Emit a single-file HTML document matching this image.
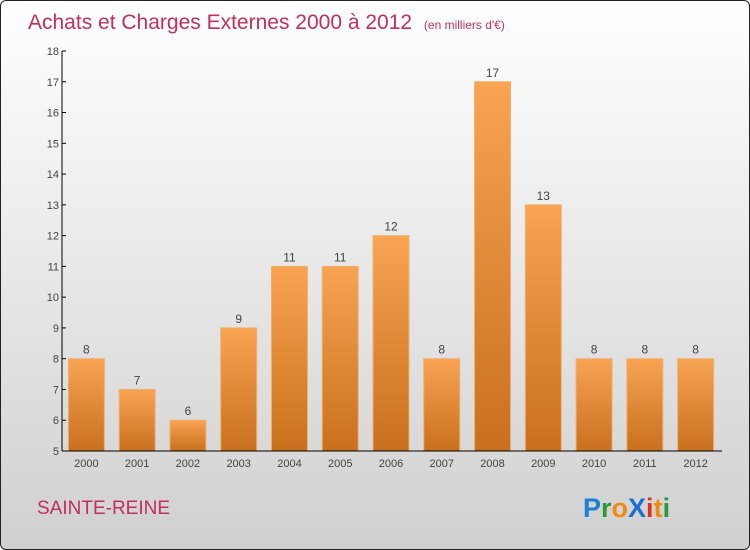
<!DOCTYPE html>
<html><head><meta charset="utf-8"><style>
body{margin:0;width:750px;height:550px;overflow:hidden;font-family:"Liberation Sans",sans-serif}
#wrap{position:absolute;left:0;top:0;width:748px;height:548px;border:1px solid #222;border-radius:6px;background:linear-gradient(#ffffff,#d0d0d0);overflow:hidden}
</style></head><body>
<div id="wrap">
<svg id="chart" width="750" height="550">
<defs><linearGradient id="bg" x1="0" y1="0" x2="0" y2="1"><stop offset="0" stop-color="#f8a453"/><stop offset="1" stop-color="#c8701e"/></linearGradient></defs>
<text x="27" y="28" font-size="21" fill="#c0305a">Achats et Charges Externes 2000 à 2012 <tspan font-size="12" dx="6">(en milliers d'€)</tspan></text>
<text x="36" y="513" font-size="19" fill="#c0305a">SAINTE-REINE</text>
<g font-size="27" font-weight="bold" font-family="Liberation Sans,sans-serif">
<text x="582" y="516"><tspan fill="#1a7fd6">P</tspan><tspan fill="#2a9a3a">r</tspan><tspan fill="#f08a10">o</tspan><tspan fill="#1a6fd0">X</tspan><tspan fill="#e03020">i</tspan><tspan fill="#f08a10">t</tspan><tspan fill="#2a9a3a">i</tspan></text></g>
<g id="plot"></g>
</svg></div>
<script>
const years=["2000","2001","2002","2003","2004","2005","2006","2007","2008","2009","2010","2011","2012"];
const values=[8,7,6,9,11,11,12,8,17,13,8,8,8];
const yTicks=[5,6,7,8,9,10,11,12,13,14,15,16,17,18];
const NS="http://www.w3.org/2000/svg";
const g=document.getElementById('plot');
const y0=450,y1=50,vmin=5,vmax=18,xl=61,xr=721;
const y=v=>y0-(v-vmin)/(vmax-vmin)*(y0-y1);
const step=(xr-xl)/years.length;
const x=i=>xl+step*(i+0.5)-1;
function el(t,a,txt){const e=document.createElementNS(NS,t);for(const k in a)e.setAttribute(k,a[k]);if(txt!==undefined)e.textContent=txt;g.appendChild(e);return e;}
yTicks.forEach(v=>{
 const t=el('text',{x:xl-3,y:y(v)+4,'font-size':11,fill:'#444','text-anchor':'end'},v);
 
 const l=el('line',{x1:xl,x2:xl+4,y1:y(v),y2:y(v),stroke:'#000'});
 
});
values.forEach((v,i)=>{
 const bw=36;
 const r=el('rect',{x:x(i)-bw/2,y:y(v),width:bw,height:y0-y(v),fill:'url(#bg)',stroke:'#f0b070','stroke-width':1});
 
 const t=el('text',{x:x(i),y:y(v)-5,'font-size':12,fill:'#444','text-anchor':'middle'},v);
 
 const c=el('text',{x:x(i),y:y0+16,'font-size':11,fill:'#444','text-anchor':'middle'},years[i]);
 
});
const ya=el('line',{x1:xl,x2:xl,y1:y1,y2:y0,stroke:'#000'});

const xa=el('line',{x1:xl,x2:xr,y1:y0,y2:y0,stroke:'#000'});

</script>
</body></html>
